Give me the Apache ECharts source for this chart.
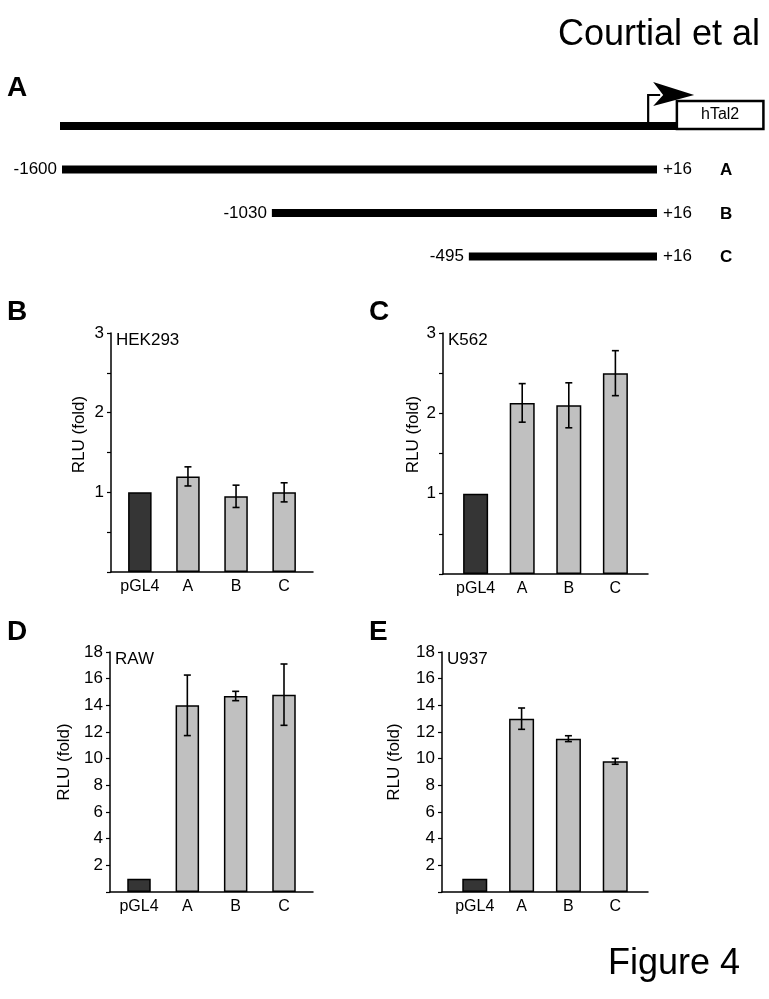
<!DOCTYPE html>
<html>
<head>
<meta charset="utf-8">
<script src="https://cdn.jsdelivr.net/npm/echarts@6/dist/echarts.min.js"></script>
<style>
html,body{margin:0;padding:0;background:#fff;}
#chart{width:769px;height:999px;}
</style>
</head>
<body>
<div id="chart"></div>
<script>
// ---- data ----
const categories = ['pGL4', 'A', 'B', 'C'];

const hek293Values = [1.0, 1.2, 0.95, 1.0];
const hek293Errors = [0, 0.12, 0.14, 0.12];
const k562Values = [1.0, 2.13, 2.1, 2.5];
const k562Errors = [0, 0.24, 0.28, 0.28];
const rawValues = [1.0, 14.0, 14.7, 14.8];
const rawErrors = [0, 2.27, 0.35, 2.3];
const u937Values = [1.0, 13.0, 11.5, 9.8];
const u937Errors = [0, 0.8, 0.22, 0.22];

const yLabels3 = [1, 2, 3];
const yLabels18 = [2, 4, 6, 8, 10, 12, 14, 16, 18];

// schematic (bp)
const fragmentNames = ['A', 'B', 'C'];
const fragmentStarts = [-1600, -1030, -495];
const fragmentEnd = 16;
const geneStart = -1600;
const tssPos = -8;
const exonStart = 70;
const exonEnd = 305;
const exonName = 'hTal2';

// ---- styling ----
const FONT = '"Liberation Sans", Arial, Helvetica, sans-serif';
const DARK = '#353535';
const LIGHT = '#c0c0c0';

const panels = [
  {id: 'B', cell: 'HEK293', values: hek293Values, errors: hek293Errors, yMax: 3, interval: 0.5, yLabels: yLabels3,
   grid: {left: 111, top: 333, width: 202, height: 239}, xMin: -0.6, xMax: 3.6, barWidth: 23.5, nameGap: 23, shift: 36},
  {id: 'C', cell: 'K562', values: k562Values, errors: k562Errors, yMax: 3, interval: 0.5, yLabels: yLabels3,
   grid: {left: 443, top: 333, width: 205, height: 241}, xMin: -0.7, xMax: 3.7, barWidth: 25, nameGap: 21, shift: 38},
  {id: 'D', cell: 'RAW', values: rawValues, errors: rawErrors, yMax: 18, interval: 2, yLabels: yLabels18,
   grid: {left: 110, top: 652, width: 203, height: 240}, xMin: -0.6, xMax: 3.6, barWidth: 23.5, nameGap: 37, shift: 20},
  {id: 'E', cell: 'U937', values: u937Values, errors: u937Errors, yMax: 18, interval: 2, yLabels: yLabels18,
   grid: {left: 442, top: 652, width: 206, height: 240}, xMin: -0.7, xMax: 3.7, barWidth: 25, nameGap: 39, shift: 20}
];

const grids = [], xAxes = [], yAxes = [], series = [];

panels.forEach((p, i) => {
  grids.push(p.grid);
  xAxes.push({
    type: 'value', gridIndex: i, min: p.xMin, max: p.xMax,
    axisLine: {show: true, onZero: false, lineStyle: {color: '#000', width: 1.5}},
    axisTick: {show: false},
    splitLine: {show: false},
    axisLabel: {
      customValues: categories.map((c, k) => k),
      formatter: v => categories[Math.round(v)] || '',
      color: '#000', fontSize: 16, fontFamily: FONT, margin: 7
    }
  });
  yAxes.push({
    type: 'value', gridIndex: i, min: 0, max: p.yMax, interval: p.interval,
    name: 'RLU (fold)', nameLocation: 'middle', nameGap: p.nameGap, nameRotate: 90,
    nameTextStyle: {color: '#000', fontSize: 17, fontFamily: FONT, padding: [0, 0, 0, p.shift]},
    axisLine: {show: true, onZero: false, lineStyle: {color: '#000', width: 1.5}},
    axisTick: {show: true, length: 4, lineStyle: {color: '#000', width: 1.2}},
    splitLine: {show: false},
    axisLabel: {customValues: p.yLabels, color: '#000', fontSize: 17, fontFamily: FONT, margin: 7}
  });
  series.push({
    type: 'bar', xAxisIndex: i, yAxisIndex: i, barWidth: p.barWidth,
    data: p.values.map((v, k) => ({
      value: [k, v],
      itemStyle: {color: k === 0 ? DARK : LIGHT, borderColor: '#000', borderWidth: 1.5}
    })),
    silent: true, animation: false
  });
  series.push({
    type: 'custom', xAxisIndex: i, yAxisIndex: i, z: 5, silent: true, animation: false,
    data: p.values.map((v, k) => [k, v, p.errors[k]]).filter(d => d[2] > 0),
    renderItem: (params, api) => {
      const x = api.value(0), v = api.value(1), e = api.value(2);
      const t = api.coord([x, v + e]), b = api.coord([x, v - e]);
      const cap = 3.5, st = {stroke: '#000', lineWidth: 1.6};
      return {type: 'group', children: [
        {type: 'line', shape: {x1: t[0], y1: t[1], x2: b[0], y2: b[1]}, style: st},
        {type: 'line', shape: {x1: t[0] - cap, y1: t[1], x2: t[0] + cap, y2: t[1]}, style: st},
        {type: 'line', shape: {x1: b[0] - cap, y1: b[1], x2: b[0] + cap, y2: b[1]}, style: st}
      ]};
    }
  });
});

// schematic grid
const sIdx = panels.length;
grids.push({left: 62, width: 595, top: 126, height: 130.5});
xAxes.push({type: 'value', gridIndex: sIdx, min: -1600, max: 16, show: false});
yAxes.push({type: 'value', gridIndex: sIdx, min: 0, max: 3, inverse: true, show: false});

series.push({
  type: 'custom', xAxisIndex: sIdx, yAxisIndex: sIdx, silent: true, animation: false, clip: false,
  data: fragmentStarts.map((s, i) => [s, fragmentEnd, i + 1, i]),
  renderItem: (params, api) => {
    const s = api.value(0), e = api.value(1), tr = api.value(2), idx = api.value(3);
    const p1 = api.coord([s, tr]), p2 = api.coord([e, tr]);
    const ts = {fill: '#000', fontSize: 17, fontFamily: FONT, verticalAlign: 'middle'};
    return {type: 'group', children: [
      {type: 'rect', shape: {x: p1[0], y: p1[1] - 4, width: p2[0] - p1[0], height: 8}, style: {fill: '#000'}},
      {type: 'text', x: p1[0] - 5, y: p1[1], style: Object.assign({}, ts, {text: String(s), align: 'right'})},
      {type: 'text', x: p2[0] + 6, y: p2[1], style: Object.assign({}, ts, {text: '+' + e, align: 'left'})},
      {type: 'text', x: p2[0] + 63, y: p2[1] + 1, style: Object.assign({}, ts, {text: fragmentNames[idx], align: 'left', fontWeight: 'bold'})}
    ]};
  }
});

series.push({
  type: 'custom', xAxisIndex: sIdx, yAxisIndex: sIdx, silent: true, animation: false, clip: false,
  data: [[geneStart, exonStart, exonEnd, tssPos, 0]],
  renderItem: (params, api) => {
    const g0 = api.coord([api.value(0), api.value(4)]);
    const ex0 = api.coord([api.value(1), api.value(4)]);
    const ex1 = api.coord([api.value(2), api.value(4)]);
    const tss = api.coord([api.value(3), api.value(4)]);
    const y = g0[1], xt = tss[0];
    return {type: 'group', children: [
      {type: 'rect', shape: {x: g0[0] - 2, y: y - 4, width: ex0[0] - g0[0] + 2, height: 8}, style: {fill: '#000'}},
      {type: 'polyline', shape: {points: [[xt, y - 2], [xt, y - 31], [xt + 12, y - 31]]}, style: {stroke: '#000', lineWidth: 2.2, fill: null}},
      {type: 'polygon', shape: {points: [[xt + 5, y - 44], [xt + 46, y - 31], [xt + 5, y - 20], [xt + 15, y - 31]]}, style: {fill: '#000'}},
      {type: 'rect', shape: {x: ex0[0], y: y - 25, width: ex1[0] - ex0[0], height: 28}, style: {fill: '#fff', stroke: '#000', lineWidth: 2.5}},
      {type: 'text', x: (ex0[0] + ex1[0]) / 2, y: y - 11, style: {text: exonName, fill: '#000', fontSize: 16, fontFamily: FONT, align: 'center', verticalAlign: 'middle'}}
    ]};
  }
});

const titleStyle = (size, bold) => ({color: '#000', fontSize: size, fontFamily: FONT, fontWeight: bold ? 'bold' : 'normal'});
const titles = [
  {text: 'Courtial et al', right: 9, top: 17, textStyle: titleStyle(36)},
  {text: 'Figure 4', right: 29, top: 946, textStyle: titleStyle(36)},
  {text: 'A', left: 7, top: 74, textStyle: titleStyle(28, true)},
  {text: 'B', left: 7, top: 298, textStyle: titleStyle(28, true)},
  {text: 'C', left: 369, top: 298, textStyle: titleStyle(28, true)},
  {text: 'D', left: 7, top: 618, textStyle: titleStyle(28, true)},
  {text: 'E', left: 369, top: 618, textStyle: titleStyle(28, true)}
];
panels.forEach(p => {
  titles.push({text: p.cell, left: p.grid.left + 5, top: p.grid.top - 1, textStyle: titleStyle(17)});
});
titles.forEach(t => { t.padding = 0; });

const chart = echarts.init(document.getElementById('chart'), null, {renderer: 'canvas'});
chart.setOption({
  backgroundColor: '#fff',
  animation: false,
  title: titles,
  grid: grids,
  xAxis: xAxes,
  yAxis: yAxes,
  series: series
});
</script>
</body>
</html>
